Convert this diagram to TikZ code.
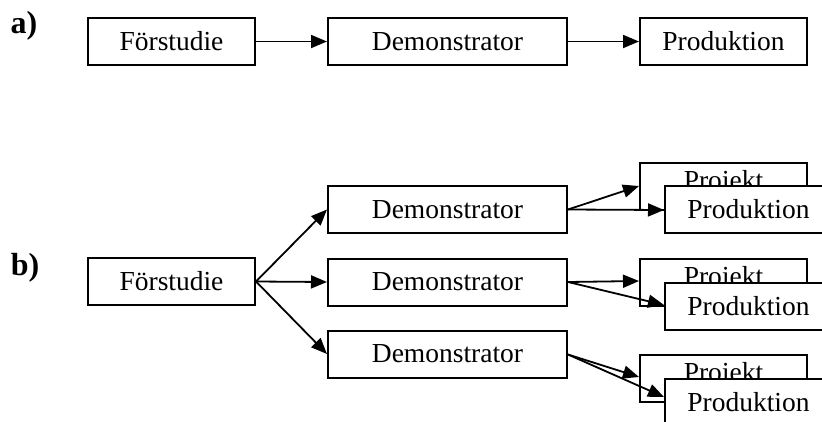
\documentclass[tikz,border=0pt]{standalone}
\usepackage{fontspec}
\setmainfont{Liberation Serif}
\usetikzlibrary{arrows.meta}
\begin{document}
\begin{tikzpicture}[x=1pt,y=-1pt,
  box/.style={draw,line width=2pt,fill=white,minimum height=47pt,inner sep=0pt,font=\fontsize{27.5}{30}\selectfont},
  sbox/.style={box,minimum width=167pt},
  wbox/.style={box,minimum width=239pt},
  arr/.style={line width=1.8pt,-{Triangle[length=16pt,width=13pt]}},
  lab/.style={font=\fontsize{32}{36}\selectfont\bfseries}]
\useasboundingbox (0,0) rectangle (822,421);
\clip (0,0) rectangle (822,421);
% a)
\node[lab] (la) at (24,26) {a)};
\node[sbox] (a1) at (171.5,41.5) {Förstudie};
\node[wbox] (a2) at (447.5,41.5) {Demonstrator};
\node[sbox] (a3) at (723.5,41.5) {Produktion};
\draw[arr] (a1) -- (a2);
\draw[arr] (a2) -- (a3);
% b)
\node[lab] (lb) at (25,268) {b)};
\node[sbox] (f) at (171.5,281.5) {Förstudie};
\node[wbox] (d1) at (447.5,209.5) {Demonstrator};
\node[wbox] (d2) at (447.5,282) {Demonstrator};
\node[wbox] (d3) at (447.5,354) {Demonstrator};
\draw[arr] (f.east) -- (d1.west);
\draw[arr] (f.east) -- (d2.west);
\draw[arr] (f.east) -- (d3.west);
% projekt boxes (behind)
\node[sbox] (p1) at (723.5,186) {\raisebox{-3pt}[0pt][0pt]{Projekt}};
\node[sbox] (p2) at (723.5,282) {\raisebox{-3pt}[0pt][0pt]{Projekt}};
\node[sbox] (p3) at (723.5,378) {\raisebox{-3pt}[0pt][0pt]{Projekt}};
% connectors
\coordinate (p1t) at (639,186);
\coordinate (p2t) at (639,281);
\coordinate (p3t) at (639,377);
\coordinate (q1t) at (664,210);
\coordinate (q2t) at (664,305);
\coordinate (q3t) at (664,397);
\draw[arr] (d1.east) -- (p1t);
\draw[arr] (d1.east) -- (q1t);
\draw[arr] (d2.east) -- (p2t);
\draw[arr] (d2.east) -- (q2t);
\draw[arr] ([yshift=-0.5pt]d3.east) -- (p3t);
\draw[arr] ([yshift=-0.5pt]d3.east) -- (q3t);
% produktion boxes (front)
\node[sbox] (q1) at (748.5,209) {Produktion};
\node[sbox] (q2) at (748.5,306) {Produktion};
\node[sbox] (q3) at (748.5,402) {Produktion};
\end{tikzpicture}
\end{document}
